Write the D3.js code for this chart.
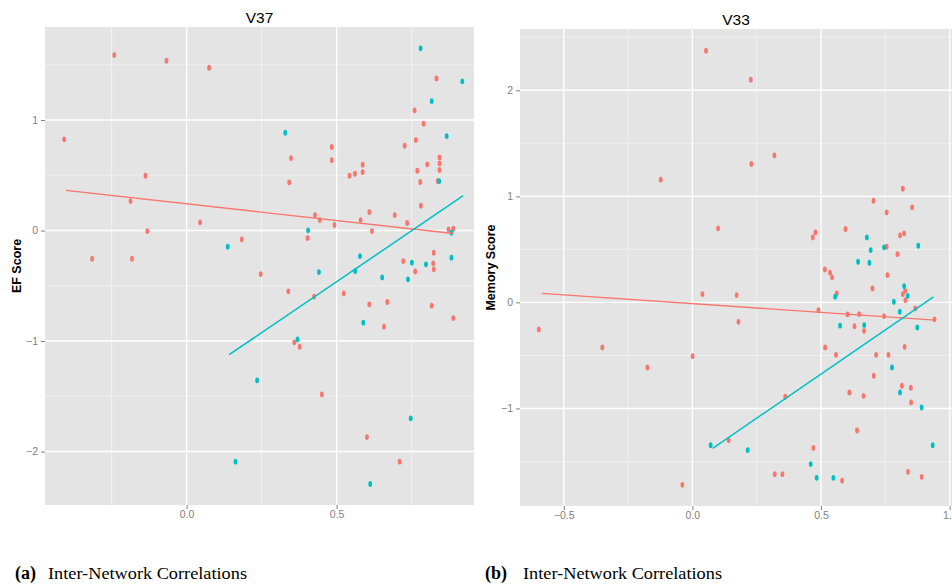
<!DOCTYPE html>
<html>
<head>
<meta charset="utf-8">
<script src="https://cdn.jsdelivr.net/npm/d3@7"></script>
<style>
  body { margin: 0; background: #fff; }
  .tick text { fill: #7f7f7f; font: 10.5px "Liberation Sans", Arial, sans-serif; }
  .tick line { stroke: #7f7f7f; }
  .title { font: 15.5px "Liberation Sans", Arial, sans-serif; fill: #000; }
  .ylab { font: bold 12.5px "Liberation Sans", Arial, sans-serif; fill: #000; }
  .cap { font: 17px "Liberation Serif", "DejaVu Serif", serif; fill: #000; }
  .cap.letter { font: bold 18px "Liberation Serif", "DejaVu Serif", serif; }
</style>
</head>
<body>
<svg width="952" height="586"></svg>
<script>
var width = 952,
    height = 586;

// V37 panel: [correlation, EF score]
var v37Red = [
  [-0.408, 0.825], [-0.241, 1.588], [-0.067, 1.537], [0.075, 1.473], [-0.137, 0.496],
  [-0.187, 0.267], [-0.131, -0.005], [0.045, 0.074], [-0.315, -0.255], [-0.182, -0.255],
  [0.184, -0.080], [0.348, 0.656], [0.342, 0.436], [0.484, 0.756], [0.484, 0.638],
  [0.543, 0.496], [0.561, 0.514], [0.587, 0.596], [0.587, 0.529], [0.428, 0.140],
  [0.444, 0.095], [0.493, 0.050], [0.580, 0.095], [0.609, 0.167], [0.618, -0.005],
  [0.694, 0.140], [0.735, 0.068], [0.403, -0.068], [0.727, 0.768], [0.764, 0.819],
  [0.760, 1.088], [0.790, 0.967], [0.833, 1.377], [0.769, 0.541], [0.779, 0.439],
  [0.802, 0.599], [0.781, 0.225], [0.843, 0.662], [0.843, 0.608], [0.843, 0.548],
  [0.837, 0.448], [0.873, 0.011], [0.889, 0.016], [0.824, -0.201], [0.722, -0.276],
  [0.822, -0.297], [0.247, -0.394], [0.339, -0.550], [0.425, -0.599], [0.524, -0.569],
  [0.609, -0.668], [0.669, -0.647], [0.658, -0.870], [0.817, -0.680], [0.889, -0.792],
  [0.762, -0.370], [0.824, -0.351], [0.359, -1.012], [0.377, -1.051], [0.451, -1.483],
  [0.601, -1.869], [0.710, -2.092]
];
var v37Teal = [
  [0.780, 1.649], [0.919, 1.350], [0.817, 1.172], [0.867, 0.855], [0.329, 0.885],
  [0.842, 0.448], [0.405, 0.002], [0.137, -0.146], [0.883, -0.020], [0.578, -0.231],
  [0.883, -0.246], [0.751, -0.291], [0.798, -0.306], [0.441, -0.376], [0.562, -0.367],
  [0.652, -0.424], [0.738, -0.442], [0.589, -0.834], [0.370, -0.985], [0.235, -1.356],
  [0.747, -1.700], [0.163, -2.092], [0.612, -2.294]
];
var v37RedFit = [[-0.402, 0.364], [0.889, -0.027]];
var v37TealFit = [[0.142, -1.124], [0.922, 0.315]];

// V33 panel: [correlation, memory score]
var v33Red = [
  [0.053, 2.374], [0.227, 2.100], [0.229, 1.305], [0.319, 1.387], [-0.123, 1.157],
  [0.100, 0.698], [0.468, 0.613], [0.478, 0.660], [0.595, 0.692], [0.704, 0.959],
  [0.818, 1.072], [0.755, 0.849], [0.854, 0.896], [0.807, 0.632], [0.823, 0.651],
  [0.755, 0.525], [0.797, 0.456], [0.515, 0.311], [0.535, 0.280], [0.543, 0.236],
  [0.758, 0.258], [0.561, 0.085], [0.700, 0.132], [0.039, 0.078], [0.172, 0.069],
  [0.818, 0.078], [0.827, 0.109], [0.828, 0.022], [0.866, -0.057], [-0.597, -0.255],
  [-0.350, -0.425], [-0.175, -0.613], [0.001, -0.507], [0.179, -0.183], [0.490, -0.073],
  [0.603, -0.113], [0.648, -0.110], [0.745, -0.129], [0.941, -0.160], [0.630, -0.224],
  [0.667, -0.268], [0.516, -0.425], [0.558, -0.494], [0.714, -0.494], [0.762, -0.494],
  [0.825, -0.419], [0.705, -0.692], [0.814, -0.786], [0.849, -0.805], [0.610, -0.849],
  [0.665, -0.881], [0.361, -0.890], [0.850, -0.943], [0.640, -1.208], [0.141, -1.299],
  [0.470, -1.371], [0.320, -1.620], [0.350, -1.620], [0.582, -1.680], [0.838, -1.598],
  [0.891, -1.645], [-0.039, -1.720]
];
var v33Teal = [
  [0.678, 0.613], [0.693, 0.493], [0.745, 0.519], [0.878, 0.534], [0.644, 0.383],
  [0.688, 0.374], [0.823, 0.154], [0.837, 0.062], [0.555, 0.053], [0.783, 0.006],
  [0.806, -0.088], [0.574, -0.220], [0.668, -0.214], [0.874, -0.236], [0.776, -0.613],
  [0.807, -0.849], [0.891, -0.991], [0.071, -1.346], [0.215, -1.393], [0.934, -1.346],
  [0.460, -1.525], [0.483, -1.654], [0.548, -1.654]
];
var v33RedFit = [[-0.585, 0.085], [0.943, -0.167]];
var v33TealFit = [[0.079, -1.377], [0.937, 0.053]];

var v37XTicks = [0, 0.5],
    v37YTicks = [-2, -1, 0, 1],
    v33XTicks = [-0.5, 0, 0.5, 1],
    v33YTicks = [-1, 0, 1, 2];

var red = "#F8766D",
    teal = "#00BFC4";

var svg = d3.select("svg");

function panel(o) {
  var x = d3.scaleLinear().domain(o.xDomain).range([o.left, o.right]),
      y = d3.scaleLinear().domain(o.yDomain).range([o.bottom, o.top]);

  var g = svg.append("g");

  g.append("rect")
      .attr("x", o.left).attr("y", o.top)
      .attr("width", o.right - o.left).attr("height", o.bottom - o.top)
      .attr("fill", "#e4e4e4");

  // minor grid halfway between the major breaks
  var xMinor = o.xMinor.filter(function(d) { return d > o.xDomain[0] && d < o.xDomain[1]; }),
      yMinor = o.yMinor.filter(function(d) { return d > o.yDomain[0] && d < o.yDomain[1]; });

  g.selectAll(".xminor").data(xMinor).enter().append("line")
      .attr("x1", x).attr("x2", x).attr("y1", o.top).attr("y2", o.bottom)
      .attr("stroke", "#f1f1f1").attr("stroke-width", 0.8);
  g.selectAll(".yminor").data(yMinor).enter().append("line")
      .attr("y1", y).attr("y2", y).attr("x1", o.left).attr("x2", o.right)
      .attr("stroke", "#f1f1f1").attr("stroke-width", 0.8);

  g.selectAll(".xmajor").data(o.xTicks).enter().append("line")
      .attr("x1", x).attr("x2", x).attr("y1", o.top).attr("y2", o.bottom)
      .attr("stroke", "#fff").attr("stroke-width", 1.4);
  g.selectAll(".ymajor").data(o.yTicks).enter().append("line")
      .attr("y1", y).attr("y2", y).attr("x1", o.left).attr("x2", o.right)
      .attr("stroke", "#fff").attr("stroke-width", 1.4);

  var xAxis = g.append("g")
      .attr("transform", "translate(0," + o.bottom + ")")
      .call(d3.axisBottom(x).tickValues(o.xTicks).tickFormat(d3.format(".1f"))
        .tickSize(4).tickPadding(2));
  xAxis.select(".domain").remove();

  var yAxis = g.append("g")
      .attr("transform", "translate(" + o.left + ",0)")
      .call(d3.axisLeft(y).tickValues(o.yTicks).tickFormat(d3.format("d"))
        .tickSize(4).tickPadding(3));
  yAxis.select(".domain").remove();

  var clip = "clip" + o.id;
  svg.append("clipPath").attr("id", clip).append("rect")
      .attr("x", o.left).attr("y", o.top)
      .attr("width", o.right - o.left).attr("height", o.bottom - o.top);

  var marks = g.append("g").attr("clip-path", "url(#" + clip + ")");

  [[o.red, red], [o.teal, teal]].forEach(function(s) {
    marks.selectAll(null).data(s[0]).enter().append("ellipse")
        .attr("cx", function(d) { return x(d[0]); })
        .attr("cy", function(d) { return y(d[1]); })
        .attr("rx", 1.9).attr("ry", 2.9)
        .attr("fill", s[1]);
  });

  var line = d3.line()
      .x(function(d) { return x(d[0]); })
      .y(function(d) { return y(d[1]); });

  marks.append("path").datum(o.redFit)
      .attr("d", line).attr("fill", "none")
      .attr("stroke", red).attr("stroke-width", 1.3);
  marks.append("path").datum(o.tealFit)
      .attr("d", line).attr("fill", "none")
      .attr("stroke", teal).attr("stroke-width", 1.5);

  g.append("text").attr("class", "title")
      .attr("x", (o.left + o.right) / 2).attr("y", o.titleY)
      .attr("text-anchor", "middle").text(o.title);

  g.append("text").attr("class", "ylab")
      .attr("transform", "translate(" + o.ylabX + "," + (o.top + o.bottom) / 2 + ") rotate(-90)")
      .attr("text-anchor", "middle").text(o.ylab);

  // figure caption under each panel
  svg.append("text").attr("class", "cap letter")
      .attr("x", o.capX).attr("y", 579)
      .text("(" + o.letter + ")");
  svg.append("text").attr("class", "cap")
      .attr("x", o.capX + (o.letter === "a" ? 33 : 38)).attr("y", 579)
      .attr("textLength", 199).attr("lengthAdjust", "spacingAndGlyphs")
      .text("Inter-Network Correlations");
}

panel({
  id: "a", letter: "a", title: "V37", ylab: "EF Score",
  left: 45, right: 474, top: 27, bottom: 505,
  xDomain: [-0.472, 0.958], yDomain: [-2.484, 1.842],
  xTicks: v37XTicks, yTicks: v37YTicks,
  xMinor: [-0.25, 0.25, 0.75], yMinor: [-2.5, -1.5, -0.5, 0.5, 1.5],
  red: v37Red, teal: v37Teal, redFit: v37RedFit, tealFit: v37TealFit,
  titleY: 23, ylabX: 21, capX: 15
});

panel({
  id: "b", letter: "b", title: "V33", ylab: "Memory Score",
  left: 520, right: 952, top: 29, bottom: 506,
  xDomain: [-0.670, 1.009], yDomain: [-1.92, 2.578],
  xTicks: v33XTicks, yTicks: v33YTicks,
  xMinor: [-0.75, -0.25, 0.25, 0.75], yMinor: [-1.5, -0.5, 0.5, 1.5, 2.5],
  red: v33Red, teal: v33Teal, redFit: v33RedFit, tealFit: v33TealFit,
  titleY: 25, ylabX: 495, capX: 485
});
</script>
</body>
</html>
